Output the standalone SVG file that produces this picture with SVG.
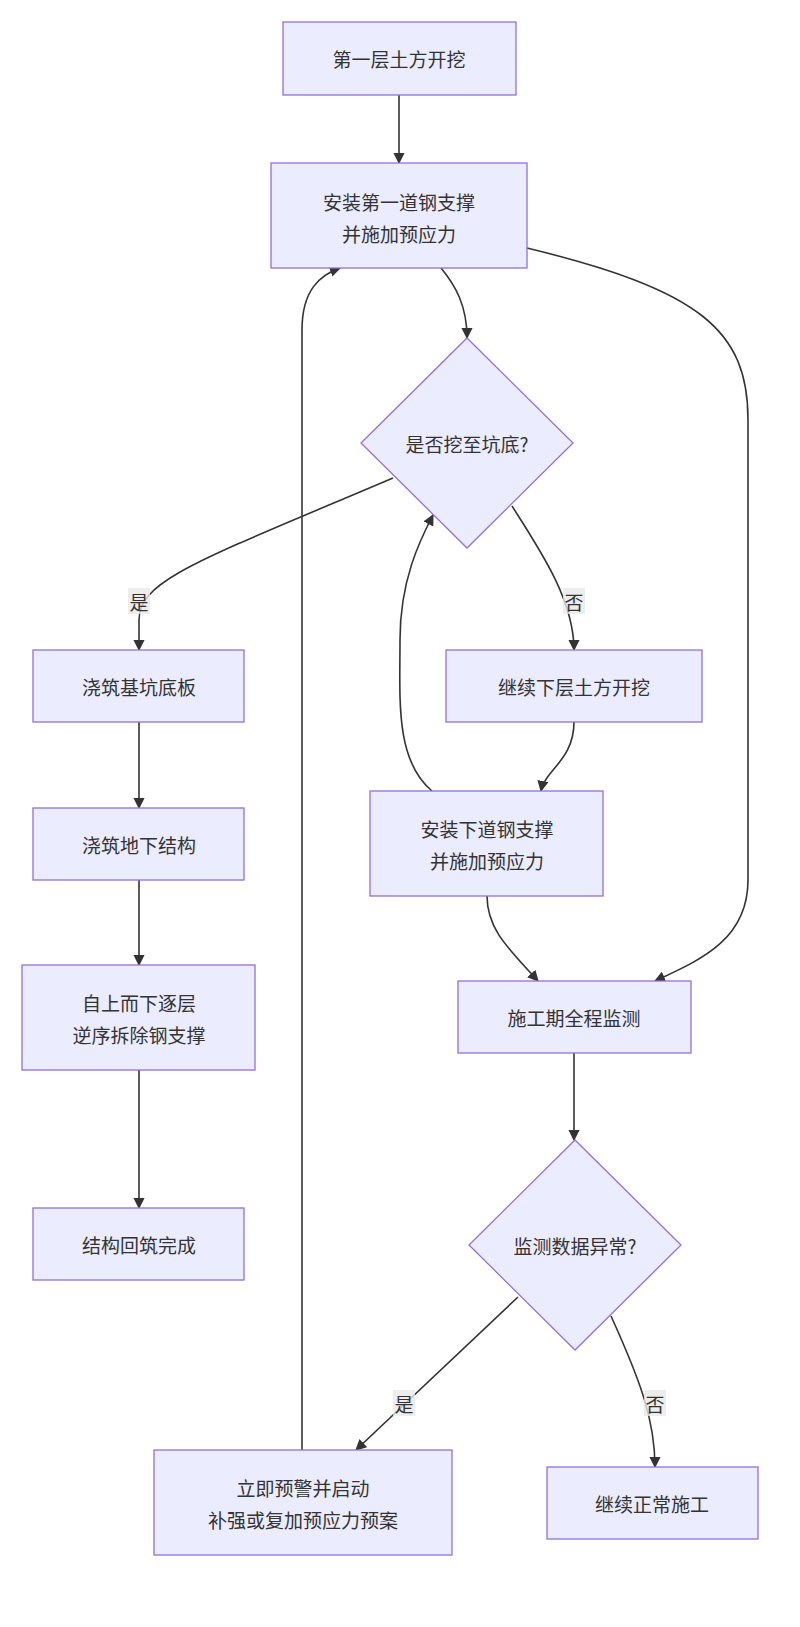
<svg xmlns="http://www.w3.org/2000/svg" width="800" height="1627" viewBox="0 0 800 1627">
<style>
.n{fill:#ECECFF;stroke:#9370DB;stroke-width:1.3}
.e{fill:none;stroke:#333;stroke-width:1.6;marker-end:url(#a)}
text{font-family:"Noto Sans CJK SC","Liberation Sans",sans-serif;font-size:19px;fill:#333;text-anchor:middle;dominant-baseline:central}
.lb{fill:#e8e8e8;opacity:0.8}
</style>
<defs><marker id="a" viewBox="0 0 10 10" refX="9" refY="5" markerWidth="7" markerHeight="7" orient="auto"><path d="M0,0L10,5L0,10z" fill="#333"/></marker></defs>
<rect width="800" height="1627" fill="#fff"/>
<g id="edges">
<path class="e" d="M399,95L399,163"/>
<path class="e" d="M441,268C455,285 467,305 467,338"/>
<path class="e" d="M527,248C700,290 748,330 748,420L748,880C748,940 700,960 655,981"/>
<path class="e" d="M393,478C200,560 139,580 139,620L139,650"/>
<path class="e" d="M512,506C540,550 574,600 574,650"/>
<path class="e" d="M574,722C574,760 545,770 541,791"/>
<path class="e" d="M432,791C395,760 400,700 400,640C400,580 420,540 433,515"/>
<path class="e" d="M487,896C487,930 510,950 538,981"/>
<path class="e" d="M139,722L139,808"/>
<path class="e" d="M139,880L139,965"/>
<path class="e" d="M139,1070L139,1208"/>
<path class="e" d="M574,1053L574,1140"/>
<path class="e" d="M518,1297L356,1450"/>
<path class="e" d="M611,1316C640,1380 655,1420 655,1467"/>
<path class="e" d="M302,1450L302,330C302,290 320,275 340,268"/>
<rect class="lb" x="128" y="588" width="22" height="26"/><text x="139" y="601">是</text>
<rect class="lb" x="563" y="588" width="22" height="26"/><text x="574" y="601">否</text>
<rect class="lb" x="393" y="1390" width="22" height="26"/><text x="404" y="1403">是</text>
<rect class="lb" x="644" y="1390" width="22" height="26"/><text x="655" y="1403">否</text>
</g>
<g id="n1"><rect class="n" x="283" y="22" width="233" height="73"/><text x="399" y="58">第一层土方开挖</text></g>
<g id="n2"><rect class="n" x="271" y="163" width="256" height="105"/><text x="399" y="201">安装第一道钢支撑</text><text x="399" y="233">并施加预应力</text></g>
<g id="d1"><path class="n" d="M467,338L573,443L467,548L361,443Z"/><text x="467" y="443">是否挖至坑底?</text></g>
<g id="n3"><rect class="n" x="33" y="650" width="211" height="72"/><text x="139" y="686">浇筑基坑底板</text></g>
<g id="n4"><rect class="n" x="446" y="650" width="256" height="72"/><text x="574" y="686">继续下层土方开挖</text></g>
<g id="n5"><rect class="n" x="370" y="791" width="233" height="105"/><text x="487" y="828">安装下道钢支撑</text><text x="487" y="860">并施加预应力</text></g>
<g id="n6"><rect class="n" x="33" y="808" width="211" height="72"/><text x="139" y="844">浇筑地下结构</text></g>
<g id="n7"><rect class="n" x="22" y="965" width="233" height="105"/><text x="139" y="1002">自上而下逐层</text><text x="139" y="1034">逆序拆除钢支撑</text></g>
<g id="n8"><rect class="n" x="458" y="981" width="233" height="72"/><text x="574" y="1017">施工期全程监测</text></g>
<g id="d2"><path class="n" d="M575,1140L681,1245L575,1350L469,1245Z"/><text x="575" y="1245">监测数据异常?</text></g>
<g id="n9"><rect class="n" x="33" y="1208" width="211" height="72"/><text x="139" y="1244">结构回筑完成</text></g>
<g id="n10"><rect class="n" x="154" y="1450" width="298" height="105"/><text x="303" y="1487">立即预警并启动</text><text x="303" y="1519">补强或复加预应力预案</text></g>
<g id="n11"><rect class="n" x="547" y="1467" width="211" height="72"/><text x="652" y="1503">继续正常施工</text></g>
</svg>
